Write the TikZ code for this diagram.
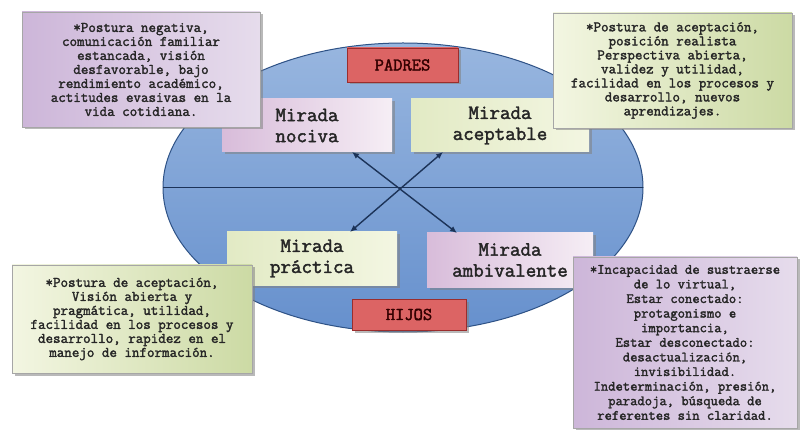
\documentclass[tikz,border=0pt]{standalone}
\usepackage{fontspec}
\newfontfamily\cour{Latin Modern Mono}[FakeBold=2]
\usetikzlibrary{shapes.geometric,shadows,arrows.meta,calc}
\definecolor{txtc}{HTML}{262626}
\definecolor{purpD}{HTML}{CDB6D9}
\definecolor{purpM}{HTML}{E6DCEC}
\definecolor{purpL}{HTML}{F5F0F7}
\definecolor{pinkD}{HTML}{D8BCDA}
\definecolor{pinkL}{HTML}{F6EEF5}
\definecolor{grnD}{HTML}{CCDAA4}
\definecolor{grnM}{HTML}{E2EAC4}
\definecolor{grnL}{HTML}{F3F6E2}
\definecolor{redD}{HTML}{DC6464}
\definecolor{redL}{HTML}{F6B8B8}
\definecolor{redB}{HTML}{9B2D2D}
\definecolor{blueT}{HTML}{98B6DF}
\definecolor{blueB}{HTML}{6690CD}
\definecolor{blueE}{HTML}{2E5286}
\definecolor{navy}{HTML}{1C3358}
\begin{document}
\begin{tikzpicture}[x=1pt,y=-1pt,
  shad/.style={drop shadow={shadow xshift=2.5pt,shadow yshift=-2.5pt,fill=black!50,opacity=0.55}},
  txtbox/.style={rectangle,inner sep=0pt,outer sep=0pt,shad,draw=black!35,line width=0.4pt,
    align=center,text=txtc,font=\cour\fontsize{14.6pt}{14pt}\selectfont},
  purpbox/.style={txtbox,left color=purpD,middle color=purpL,right color=purpM},
  grnbox/.style={txtbox,left color=grnL,middle color=grnM,right color=grnD},
  mirada/.style={rectangle,inner sep=0pt,outer sep=0pt,shad,minimum height=53pt,
    align=center,text=txtc,font=\cour\fontsize{20.4pt}{21pt}\selectfont},
  pinkbox/.style={mirada,left color=pinkD,right color=pinkL},
  lgrnbox/.style={mirada,left color=grnM,right color=grnL},
  redbox/.style={rectangle,inner sep=0pt,outer sep=0pt,shad,draw=redB,line width=0.6pt,
    top color=redD,middle color=redL,bottom color=redD,text=black!80!red,
    font=\cour\fontsize{18pt}{18pt}\selectfont},
  arr/.style={draw=navy,line width=1.4pt,{Latex[length=7pt,width=6pt]}-{Latex[length=7pt,width=6pt]}}
]
\useasboundingbox (0,0) rectangle (800,430);
\fill[white] (0,0) rectangle (800,430);
% oval
\node[ellipse,minimum width=480pt,minimum height=289pt,inner sep=0pt,outer sep=0pt,
  top color=blueT,bottom color=blueB,draw=blueE,line width=1pt] (oval) at (403,187.5) {};
\draw[draw=navy,line width=1.4pt] (oval.west) -- (oval.east);
% mirada boxes
\node[pinkbox,minimum width=170pt] (nociva) at (307,125.5) {Mirada\\nociva};
\node[lgrnbox,minimum width=178pt] (aceptable) at (500,125.5) {Mirada\\aceptable};
\node[lgrnbox,minimum width=170pt] (practica) at (312,258.5) {Mirada\\práctica};
\node[pinkbox,minimum width=166pt,minimum height=54pt] (ambivalente) at (510,260) {Mirada\\ambivalente};
% arrows
\draw[arr] ([xshift=45pt]nociva.south) -- ([xshift=-53pt]ambivalente.north);
\draw[arr] ([xshift=-57pt]aceptable.south) -- ([xshift=38pt]practica.north);
% red labels
\node[redbox,minimum width=111pt,minimum height=34pt] (padres) at (402.5,65) {PADRES};
\node[redbox,minimum width=114pt,minimum height=31pt] (hijos) at (409,314.5) {HIJOS};
% text boxes
\node[purpbox,minimum width=238pt,minimum height=115pt] (tl) at (141,69.5)
 {*Postura negativa,\\comunicación familiar\\estancada, visión\\desfavorable, bajo\\rendimiento académico,\\actitudes evasivas en la\\vida cotidiana.};
\node[grnbox,minimum width=239pt,minimum height=115pt] (tr) at (672.5,70.5)
 {*Postura de aceptación,\\posición realista\\Perspectiva abierta,\\validez y utilidad,\\facilidad en los procesos y\\desarrollo, nuevos\\aprendizajes.};
\node[grnbox,minimum width=240pt,minimum height=108pt] (bl) at (132,319)
 {*Postura de aceptación,\\Visión abierta y\\pragmática, utilidad,\\facilidad en los procesos y\\desarrollo, rapidez en el\\manejo de información.};
\node[purpbox,minimum width=224pt,minimum height=171pt,
  font=\cour\fontsize{14.2pt}{14.6pt}\selectfont] (br) at (685,342.5)
 {*Incapacidad de sustraerse\\de lo virtual,\\Estar conectado:\\protagonismo e\\importancia,\\Estar desconectado:\\desactualización,\\invisibilidad.\\Indeterminación, presión,\\paradoja, búsqueda de\\referentes sin claridad.};
\end{tikzpicture}
\end{document}
